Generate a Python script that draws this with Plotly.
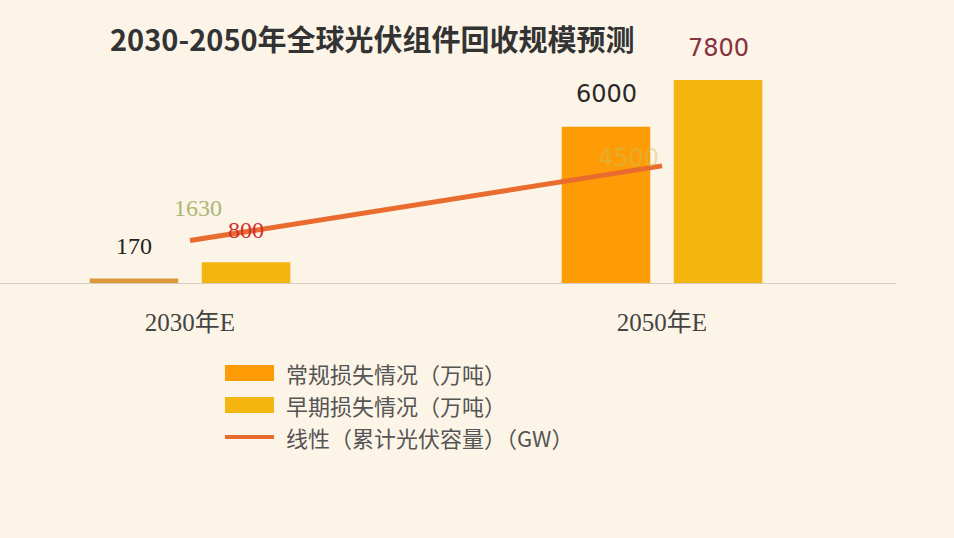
import plotly.graph_objects as go

categories = ["2030年E", "2050年E"]
regular_loss = [170, 6000]
early_loss = [800, 7800]
cumulative_gw = [1630, 4500]
series_names = ["常规损失情况（万吨）", "早期损失情况（万吨）", "线性（累计光伏容量）（GW）"]
title_text = "2030-2050年全球光伏组件回收规模预测"

W, H = 954, 538
ML, MR, MT, MB = 0, 58, 40, 255
PW = W - ML - MR
PH = H - MT - MB
BG = "#FCF4E7"
C_REG = ["#DC9A3A", "#FE9C08"]
C_EARLY = "#F5B510"
C_LINE = "#EA6B2E"

def px(xp):
    return (xp - ML) / PW

def py(yp):
    return (H - MB - yp) / PH

fig = go.Figure()
fig.add_trace(go.Bar(x=categories, y=regular_loss, name=series_names[0],
                     marker=dict(color=C_REG, line=dict(width=0)), showlegend=False))
fig.add_trace(go.Bar(x=categories, y=early_loss, name=series_names[1],
                     marker=dict(color=C_EARLY, line=dict(width=0)), showlegend=False))
fig.add_trace(go.Scatter(x=categories, y=cumulative_gw, name=series_names[2], mode="lines",
                         line=dict(color=C_LINE, width=5), showlegend=False))

# data labels
num_serif = "Liberation Serif, serif"
num_sans = "DejaVu Sans, sans-serif"
reg_label_style = [dict(color="#222222", family=num_serif), dict(color="#2a2a2a", family=num_sans)]
early_label_style = [dict(color="#D0302C", family=num_serif), dict(color="#8A3040", family=num_sans)]
line_label_style = [dict(color="#A9B874", family=num_serif), dict(color="rgba(200,195,90,0.45)", family=num_sans)]
for i, c in enumerate(categories):
    fig.add_annotation(x=c, y=regular_loss[i], text=str(regular_loss[i]), showarrow=False,
                       xshift=-56, yshift=33, font=dict(size=24, **reg_label_style[i]))
    fig.add_annotation(x=c, y=early_loss[i], text=str(early_loss[i]), showarrow=False,
                       xshift=56, yshift=32, font=dict(size=24, **early_label_style[i]))
fig.add_annotation(x=categories[0], y=cumulative_gw[0], text=str(cumulative_gw[0]), showarrow=False,
                   xshift=8, yshift=33, font=dict(size=24, **line_label_style[0]))
fig.add_annotation(x=categories[1], y=cumulative_gw[1], text=str(cumulative_gw[1]), showarrow=False,
                   xshift=-34, yshift=8, font=dict(size=24, **line_label_style[1]))

# title
fig.add_annotation(x=px(108), y=py(38), xref="paper", yref="paper", xanchor="left", yanchor="middle",
                   text="<b>" + title_text + "</b>", showarrow=False,
                   font=dict(size=29, color="#333333", family="Noto Sans CJK SC, sans-serif"))

# custom legend
legend_rows = [373, 405, 437]
for i, name in enumerate(series_names):
    yc = legend_rows[i]
    if i < 2:
        col = C_REG[1] if i == 0 else C_EARLY
        fig.add_shape(type="rect", xref="paper", yref="paper",
                      x0=px(225), x1=px(274), y0=py(yc - 8), y1=py(yc + 8),
                      fillcolor=col, line=dict(width=0))
    else:
        fig.add_shape(type="line", xref="paper", yref="paper",
                      x0=px(225), x1=px(274), y0=py(yc), y1=py(yc),
                      line=dict(color=C_LINE, width=4))
    fig.add_annotation(x=px(284), y=py(yc), xref="paper", yref="paper", xanchor="left", yanchor="middle",
                       text=name, showarrow=False,
                       font=dict(size=22, color="#555555", family="Noto Sans CJK SC, sans-serif"))

fig.update_layout(
    width=W, height=H,
    margin=dict(l=ML, r=MR, t=MT, b=MB, pad=0),
    paper_bgcolor=BG, plot_bgcolor=BG,
    barmode="group", bargap=0.525, bargroupgap=0.21,
    showlegend=False,
    xaxis=dict(type="category", range=[-190 / 472, -190 / 472 + PW / 472],
               showgrid=False, zeroline=False, showline=True, linecolor="#D3CCC2", linewidth=1,
               ticks="", ticklabelstandoff=17,
               tickfont=dict(size=25, color="#444444", family="Liberation Serif, Noto Sans CJK SC, serif")),
    yaxis=dict(range=[0, 7800 * PH / 203], visible=False, showgrid=False, zeroline=False),
)

fig.write_html("out.html", config={"displayModeBar": False},
               post_script="document.body.style.margin='0';document.body.style.background='" + BG + "';")
